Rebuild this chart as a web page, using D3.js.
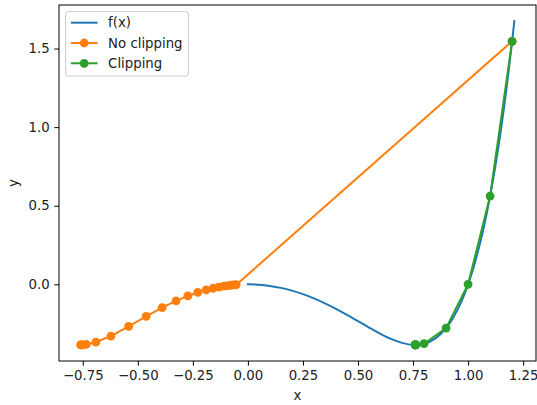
<!DOCTYPE html>
<html>
<head>
<meta charset="utf-8">
<script src="https://cdn.jsdelivr.net/npm/d3@7"></script>
<style>
	body { margin: 0; background: #fff; }
	svg { display: block; font-family: "DejaVu Sans", sans-serif; }
</style>
</head>
<body>
<svg width="537" height="405"></svg>
<script>
// f(x) curve
var curveX = [0, 0.05, 0.1, 0.15, 0.2, 0.25, 0.3, 0.35, 0.4, 0.45, 0.5, 0.55, 0.6, 0.65, 0.7, 0.75, 0.8, 0.85, 0.9, 0.925, 0.95, 0.975, 1.0, 1.025, 1.05, 1.075, 1.1, 1.125, 1.15, 1.175, 1.2, 1.21];
var curveY = [0, -0.0025, -0.01, -0.0225, -0.0399, -0.0623, -0.0893, -0.1207, -0.1559, -0.1942, -0.2344, -0.2748, -0.3133, -0.3471, -0.3724, -0.3845, -0.3779, -0.3454, -0.2786, -0.2292, -0.1674, -0.0921, 0, 0.1095, 0.2376, 0.3858, 0.5616, 0.7622, 0.9906, 1.2493, 1.546, 1.674];

// "No clipping" iterates
var noClipX = [1.2, -0.0530, -0.0636, -0.0763, -0.0916, -0.1099, -0.1319, -0.1582, -0.1898, -0.2276, -0.2727, -0.3264, -0.3894, -0.4620, -0.5417, -0.6221, -0.6906, -0.7345, -0.7531, -0.7584, -0.7595];
var noClipY = [1.546, -0.0028, -0.0040, -0.0058, -0.0084, -0.0121, -0.0174, -0.0250, -0.0360, -0.0517, -0.0740, -0.1053, -0.1482, -0.2037, -0.2682, -0.3290, -0.3684, -0.3825, -0.3847, -0.3849, -0.3849];

// "Clipping" iterates
var clipX = [1.2, 1.1, 1.0, 0.9, 0.8, 0.7634, 0.7605, 0.7600, 0.7599, 0.7598, 0.7598];
var clipY = [1.546, 0.5616, 0, -0.2786, -0.3779, -0.3849, -0.3849, -0.3849, -0.3849, -0.3849, -0.3849];

var xTicks = [-0.75, -0.50, -0.25, 0.00, 0.25, 0.50, 0.75, 1.00, 1.25];
var yTicks = [0.0, 0.5, 1.0, 1.5];

var seriesNames = ["f(x)", "No clipping", "Clipping"];
var seriesColors = ["#1f77b4", "#ff7f0e", "#2ca02c"];

var FONT = 13.3;
var TICK_LEN = 4.7;
var MARKER_R = 4.4;

function zipPts(xs, ys) {
	var pts = [];
	for (var i = 0; i < xs.length; i++) {
		pts.push([xs[i], ys[i]]);
	}
	return pts;
}

var svg = d3.select("svg"),
	margin = { top: 5, right: 1, bottom: 44, left: 59 },
	width = +svg.attr("width") - margin.left - margin.right,
	height = +svg.attr("height") - margin.top - margin.bottom;

// matplotlib style 5% margins around the data
var allX = curveX.concat(noClipX, clipX);
var allY = curveY.concat(noClipY, clipY);
var xmin = d3.min(allX), xmax = d3.max(allX);
var ymin = d3.min(allY), ymax = d3.max(allY);
var dx = (xmax - xmin) * 0.05, dy = (ymax - ymin) * 0.05;

var x = d3.scaleLinear().domain([xmin - dx, xmax + dx]).range([0, width]);
var y = d3.scaleLinear().domain([ymin - dy, ymax + dy]).range([height, 0]);

var g = svg.append("g").attr("transform", "translate(" + margin.left + "," + margin.top + ")");

g.append("clipPath").attr("id", "plotclip")
	.append("rect").attr("width", width).attr("height", height);

var line = d3.line()
	.x(function(d) { return x(d[0]); })
	.y(function(d) { return y(d[1]); });

// smooth version only for the sampled curve
var smoothLine = d3.line()
	.x(function(d) { return x(d[0]); })
	.y(function(d) { return y(d[1]); })
	.curve(d3.curveMonotoneX);

var plot = g.append("g").attr("clip-path", "url(#plotclip)");

var data = [
	{ pts: zipPts(curveX, curveY), color: seriesColors[0], marker: false },
	{ pts: zipPts(noClipX, noClipY), color: seriesColors[1], marker: true },
	{ pts: zipPts(clipX, clipY), color: seriesColors[2], marker: true }
];

data.forEach(function(s) {
	var sg = plot.append("g");
	sg.append("path")
		.attr("d", s.marker ? line(s.pts) : smoothLine(s.pts))
		.attr("fill", "none")
		.attr("stroke", s.color)
		.attr("stroke-width", 2)
		.attr("stroke-linejoin", "round")
		.attr("stroke-linecap", "square");
	if (s.marker) {
		sg.selectAll("circle")
			.data(s.pts)
			.enter().append("circle")
				.attr("cx", function(d) { return x(d[0]); })
				.attr("cy", function(d) { return y(d[1]); })
				.attr("r", MARKER_R)
				.attr("fill", s.color);
	}
});

// axes
var xAxis = d3.axisBottom(x)
	.tickValues(xTicks)
	.tickSize(TICK_LEN)
	.tickPadding(4.7)
	.tickFormat(d3.format(".2f"));

var yAxis = d3.axisLeft(y)
	.tickValues(yTicks)
	.tickSize(TICK_LEN)
	.tickPadding(4.7)
	.tickFormat(d3.format(".1f"));

var xg = g.append("g").attr("transform", "translate(0," + height + ")").call(xAxis);
var yg = g.append("g").call(yAxis);

[xg, yg].forEach(function(a) {
	a.select(".domain").remove();
	a.selectAll(".tick line").attr("stroke", "#000").attr("stroke-width", 1);
	a.selectAll(".tick text")
		.attr("fill", "#222")
		.style("font-size", FONT + "px")
		.style("font-family", "'DejaVu Sans', sans-serif");
});

// use a real minus sign like matplotlib
xg.selectAll(".tick text").text(function(d) { return d3.format(".2f")(d).replace("-", "\u2212"); });

// spines
g.append("rect")
	.attr("width", width)
	.attr("height", height)
	.attr("fill", "none")
	.attr("stroke", "#000")
	.attr("stroke-width", 1);

// axis labels
svg.append("text")
	.attr("x", margin.left + width / 2)
	.attr("y", 400)
	.attr("text-anchor", "middle")
	.attr("fill", "#222")
	.style("font-size", FONT + "px")
	.text("x");

svg.append("text")
	.attr("transform", "translate(18," + (margin.top + height / 2) + ") rotate(-90)")
	.attr("text-anchor", "middle")
	.attr("fill", "#222")
	.style("font-size", FONT + "px")
	.text("y");

// legend
var lg = g.append("g").attr("transform", "translate(6.6,6.6)");

lg.append("rect")
	.attr("width", 123)
	.attr("height", 64.5)
	.attr("rx", 3)
	.attr("fill", "#fff")
	.attr("fill-opacity", 0.8)
	.attr("stroke", "#ccc")
	.attr("stroke-width", 1);

for (var i = 0; i < seriesNames.length; i++) {
	var rowY = 11.1 + i * 20.3;
	lg.append("line")
		.attr("x1", 5.3).attr("x2", 32)
		.attr("y1", rowY).attr("y2", rowY)
		.attr("stroke", seriesColors[i])
		.attr("stroke-width", 2);
	if (i > 0) {
		lg.append("circle")
			.attr("cx", 18.6).attr("cy", rowY).attr("r", MARKER_R)
			.attr("fill", seriesColors[i]);
	}
	lg.append("text")
		.attr("x", 42.5)
		.attr("y", rowY)
		.attr("dy", "0.35em")
		.attr("fill", "#222")
		.style("font-size", FONT + "px")
		.text(seriesNames[i]);
}
</script>
</body>
</html>
